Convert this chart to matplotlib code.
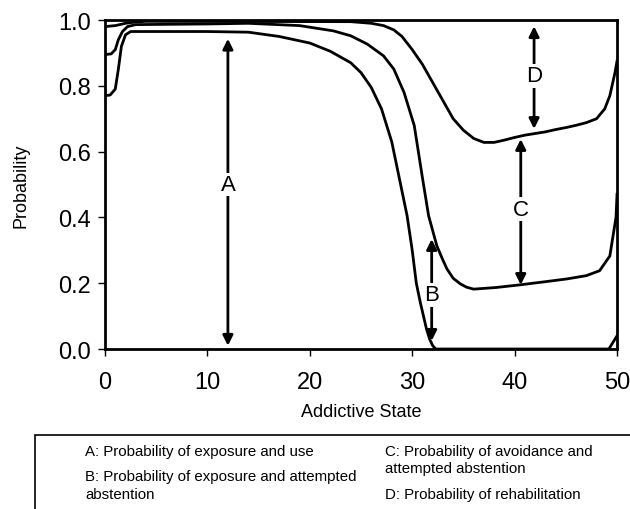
import matplotlib.pyplot as plt
from matplotlib.patches import Rectangle

plt.rcParams['font.family'] = ['Liberation Sans', 'DejaVu Sans']

# boundary curves (cumulative probabilities)
x_a = [0, 0.5, 1.0, 1.3, 1.6, 2.0, 2.5, 5, 10, 14, 17, 20, 22, 24, 25, 26, 27,
       28, 28.8, 29.5, 30, 30.4, 30.8, 31.1, 31.4, 31.7, 32.0, 32.3, 35, 40,
       45, 49.2, 50]
y_a = [0.77, 0.772, 0.79, 0.85, 0.92, 0.955, 0.965, 0.965, 0.965, 0.963, 0.95,
       0.93, 0.905, 0.87, 0.84, 0.795, 0.73, 0.63, 0.51, 0.405, 0.30, 0.20,
       0.14, 0.10, 0.06, 0.03, 0.01, 0.0, 0.0, 0.0, 0.0, 0.0, 0.04]

x_b = [0, 0.6, 1.0, 1.3, 1.7, 2.2, 3, 10, 14, 19, 22.3, 24, 25.6, 27.2, 28.2,
       29.2, 30.2, 31.0, 31.6, 32.4, 33.0, 33.4, 34.0, 34.7, 35.3, 36, 38.2,
       40.5, 43.1, 45.1, 47, 48.3, 49.3, 49.9, 50]
y_b = [0.895, 0.897, 0.91, 0.94, 0.965, 0.98, 0.986, 0.988, 0.99, 0.983,
       0.967, 0.952, 0.927, 0.891, 0.851, 0.78, 0.679, 0.52, 0.405, 0.314,
       0.27, 0.243, 0.215, 0.198, 0.188, 0.182, 0.187, 0.195, 0.205, 0.213,
       0.223, 0.238, 0.283, 0.40, 0.47]

x_c = [0, 1, 2, 3, 4, 24, 26, 27.2, 28.2, 29, 30, 31, 32, 33, 34, 35, 36, 37,
       38, 39, 40, 41, 42, 43, 44, 45, 46, 47, 48, 48.8, 49.3, 49.8, 50]
y_c = [0.98, 0.983, 0.99, 0.994, 0.996, 0.995, 0.99, 0.983, 0.97, 0.95, 0.91,
       0.865, 0.81, 0.755, 0.70, 0.665, 0.64, 0.628, 0.628, 0.635, 0.643,
       0.65, 0.655, 0.66, 0.667, 0.673, 0.68, 0.688, 0.70, 0.73, 0.77, 0.84,
       0.875]

# double arrows: letter, x, y_bottom, y_top, y_letter
arrows = [('A', 12.0, 0.01, 0.943, 0.50),
          ('B', 31.9, 0.025, 0.334, 0.165),
          ('C', 40.6, 0.195, 0.638, 0.425),
          ('D', 41.9, 0.669, 0.981, 0.83)]

legend_items = ['A: Probability of exposure and use',
                'B: Probability of exposure and attempted\nabstention',
                'C: Probability of avoidance and\nattempted abstention',
                'D: Probability of rehabilitation']

fig = plt.figure(figsize=(6.3, 5.1), dpi=100)
ax = fig.add_axes([0.1667, 0.3137, 0.8127, 0.6451])

for xs, ys in [(x_a, y_a), (x_b, y_b), (x_c, y_c)]:
    ax.plot(xs, ys, color='black', linewidth=2, solid_joinstyle='round')

for letter, x, y0, y1, ym in arrows:
    ax.annotate('', xy=(x, y1), xytext=(x, y0),
                arrowprops=dict(arrowstyle='<|-|>', color='black', lw=2,
                                mutation_scale=15, shrinkA=0, shrinkB=0))
    ax.text(x, ym, letter, ha='center', va='center', fontsize=16,
            bbox=dict(facecolor='white', edgecolor='none', pad=1))

ax.set_xlim(0, 50)
ax.set_ylim(0, 1.0)
ax.set_xticks([0, 10, 20, 30, 40, 50])
ax.set_yticks([0.0, 0.2, 0.4, 0.6, 0.8, 1.0])
ax.set_yticklabels(['0.0', '0.2', '0.4', '0.6', '0.8', '1.0'])
ax.tick_params(direction='out', length=5, width=1, labelsize=17)
ax.tick_params(axis='x', pad=11)
ax.tick_params(axis='y', pad=5)
for s in ax.spines.values():
    s.set_linewidth(2)
ax.set_xlabel('Addictive State', fontsize=13, labelpad=7)
ax.set_ylabel('Probability', fontsize=13, labelpad=21)

# legend box at the bottom, runs off the right and bottom edges
fig.patches.append(Rectangle((35 / 630, -0.05), 1.0, (510 - 436) / 510 + 0.05,
                             transform=fig.transFigure, fill=False,
                             edgecolor='black', linewidth=1.2))
fig.text(85 / 630, 1 - 452 / 510, legend_items[0], fontsize=10.8, va='center')
fig.text(85 / 630, 1 - 486 / 510, legend_items[1], fontsize=10.8, va='center',
         linespacing=1.3)
fig.text(385 / 630, 1 - 460.5 / 510, legend_items[2], fontsize=10.8,
         va='center', linespacing=1.3)
fig.text(385 / 630, 1 - 495 / 510, legend_items[3], fontsize=10.8,
         va='center')

fig.savefig('out.png', dpi=100)
